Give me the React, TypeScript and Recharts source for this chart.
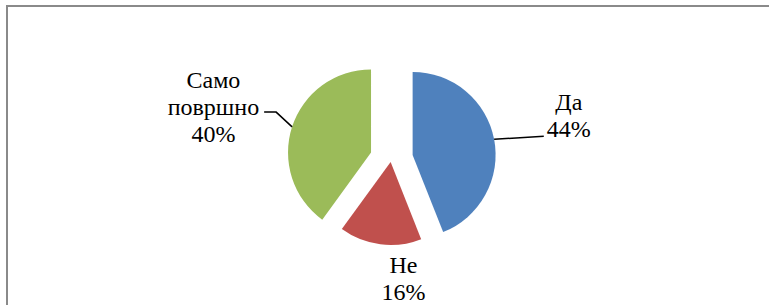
import { PieChart, Pie, Cell } from "recharts";

const categories = ["Да", "Не", "Само површно"];
const labelText = [["Да"], ["Не"], ["Само", "површно"]];
const shares = [44, 16, 40];

const COLORS = ["#4F81BD", "#C0504D", "#9BBB59"];
// how far each slice is pulled out of the pie, px
const EXPLODE = [22, 3, 21];
// label placement: distance from pie centre, angle tweak, leader line points (relative to label centre)
const LABELS = [
  { dist: 183, turn: -2.9, leader: [[-25, 20.5]] },
  { dist: 120.6, turn: -13.1, leader: [] },
  { dist: 185, turn: -1.7, leader: [[62.7, 5], [50.7, 5]] },
];

const W = 769;
const H = 305;
const CX = 391;
const CY = 159;
const R = 83;
const FONT = "Liberation Serif, Tinos, DejaVu Serif, serif";

const data = categories.map((name, i) => ({ name, value: shares[i] }));
const total = shares.reduce((a, b) => a + b, 0);

// middle of each slice, degrees clockwise from 12 o'clock
const midAngles = shares.map((v, i) => {
  const before = shares.slice(0, i).reduce((a, b) => a + b, 0);
  return ((before + v / 2) / total) * 360;
});

const rad = (d: number) => (d * Math.PI) / 180;

function makeLabel(only: number) {
  return (props: any) => {
    const { index, midAngle, percent, cx, cy, outerRadius } = props;
    if (index !== only) return null;
    const cfg = LABELS[index];
    const a = 90 - midAngle;
    const lx = CX + cfg.dist * Math.sin(rad(a + cfg.turn));
    const ly = CY - cfg.dist * Math.cos(rad(a + cfg.turn));
    const lines = [...labelText[index], `${Math.round(percent * 100)}%`];
    const n = lines.length;
    const sx = cx + outerRadius * Math.sin(rad(a));
    const sy = cy - outerRadius * Math.cos(rad(a));
    const path = cfg.leader.length
      ? `M${sx},${sy}` + cfg.leader.map(([dx, dy]) => ` L${lx + dx},${ly + dy}`).join("")
      : null;
    return (
      <g>
        {path ? <path d={path} stroke="#000" strokeWidth={1.5} fill="none" /> : null}
        {lines.map((t, i) => (
          <text
            key={i}
            x={lx}
            y={ly + (i - (n - 1) / 2) * 27 + 8}
            textAnchor="middle"
            style={{ fontFamily: FONT, fontSize: 24, fill: "#000" }}
          >
            {t}
          </text>
        ))}
      </g>
    );
  };
}

export default function App() {
  return (
    <div
      style={{
        position: "absolute",
        left: 0,
        top: 0,
        width: W,
        height: H,
        background: "#fff",
        overflow: "hidden",
      }}
    >
      <div
        style={{
          position: "absolute",
          left: 6,
          top: 5,
          width: W,
          height: H,
          borderTop: "2px solid #8a8a8a",
          borderLeft: "2px solid #8a8a8a",
        }}
      />
      <div style={{ position: "absolute", left: 0, top: 0 }}>
        <PieChart width={W} height={H} margin={{ top: 0, right: 0, bottom: 0, left: 0 }}>
          {data.map((d, k) => (
            <Pie
              key={d.name}
              data={data}
              dataKey="value"
              nameKey="name"
              cx={CX + EXPLODE[k] * Math.sin(rad(midAngles[k]))}
              cy={CY - EXPLODE[k] * Math.cos(rad(midAngles[k]))}
              outerRadius={R}
              startAngle={90}
              endAngle={-270}
              stroke="none"
              label={makeLabel(k)}
              labelLine={false}
              isAnimationActive={false}
            >
              {data.map((e, i) => (
                <Cell key={e.name} fill={i === k ? COLORS[i] : "transparent"} />
              ))}
            </Pie>
          ))}
        </PieChart>
      </div>
    </div>
  );
}
